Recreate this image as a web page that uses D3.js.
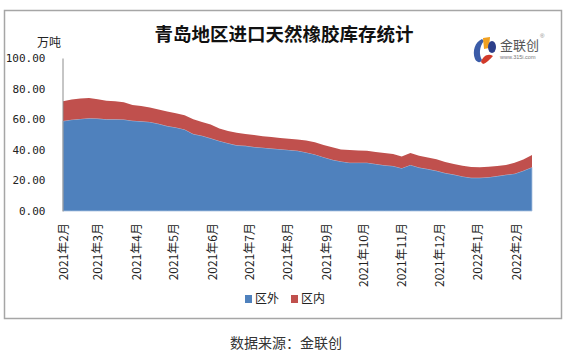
<!DOCTYPE html>
<html lang="zh">
<head>
<meta charset="UTF-8">
<title>青岛地区进口天然橡胶库存统计</title>
<script src="https://d3js.org/d3.v7.min.js"></script>
<style>
  body { margin: 0; background: #fff; }
  svg { display: block; }
  .cjk { font-family: "Noto Sans CJK SC", "Liberation Sans", sans-serif; }
</style>
</head>
<body>
<div id="chart"></div>
<script>
// weekly dates
const dates = [
  "2021-02-01","2021-02-08","2021-02-15","2021-02-22","2021-03-01","2021-03-08","2021-03-15","2021-03-22","2021-03-29",
  "2021-04-05","2021-04-12","2021-04-19","2021-04-26","2021-05-03","2021-05-10","2021-05-17","2021-05-24","2021-05-31",
  "2021-06-07","2021-06-14","2021-06-21","2021-06-28","2021-07-05","2021-07-12","2021-07-19","2021-07-26",
  "2021-08-02","2021-08-09","2021-08-16","2021-08-23","2021-08-30","2021-09-06","2021-09-13","2021-09-20","2021-09-27",
  "2021-10-04","2021-10-11","2021-10-18","2021-10-25","2021-11-01","2021-11-08","2021-11-15","2021-11-22","2021-11-29",
  "2021-12-06","2021-12-13","2021-12-20","2021-12-27","2022-01-03","2022-01-10","2022-01-17","2022-01-24","2022-01-31",
  "2022-02-07","2022-02-14"
];
// 区外 (bonded-zone outside), 万吨
const outside = [
  58.8,59.7,60.2,60.7,60.4,59.9,59.9,59.8,59.0,58.6,58.2,57.0,55.5,54.6,53.3,50.3,49.2,47.5,
  45.8,44.3,42.9,42.6,41.8,41.4,40.8,40.4,39.9,39.4,38.3,37.0,35.2,33.5,32.4,31.6,31.6,
  31.6,30.7,29.9,29.4,28.0,30.1,28.4,27.4,26.3,24.8,23.8,22.6,21.7,21.7,22.1,22.8,23.7,24.4,
  26.3,28.6
];
// 区内
const inside = [
  13.0,13.1,13.3,13.2,12.6,12.2,11.9,11.3,10.3,10.1,9.4,9.3,9.6,9.3,9.3,9.7,8.9,9.0,
  8.2,8.0,8.2,7.8,7.9,7.5,7.5,7.3,7.3,7.3,7.8,7.9,8.0,8.1,7.8,8.2,8.0,
  7.8,7.8,8.0,7.9,7.7,7.8,7.7,7.6,7.5,7.3,7.0,7.0,7.0,6.9,6.8,6.6,6.4,7.2,
  7.3,8.0
];
const tickDates = ["2021-02-01","2021-03-01","2021-04-01","2021-05-01","2021-06-01","2021-07-01","2021-08-01",
  "2021-09-01","2021-10-01","2021-11-01","2021-12-01","2022-01-01","2022-02-01"];
const tickLabels = ["2021年2月","2021年3月","2021年4月","2021年5月","2021年6月","2021年7月","2021年8月",
  "2021年9月","2021年10月","2021年11月","2021年12月","2022年1月","2022年2月"];
const yTicks = [0, 20, 40, 60, 80, 100];
const seriesNames = ["区外", "区内"];
const colors = ["#4F81BD", "#C0504D"];

const W = 573, H = 360;
const parse = d3.utcParse("%Y-%m-%d");

const svg = d3.select("#chart").append("svg")
  .attr("width", W).attr("height", H);

// outer frame
svg.append("rect")
  .attr("x", 4.5).attr("y", 10.5).attr("width", 557).attr("height", 308)
  .attr("fill", "#fff").attr("stroke", "#a6a6a6").attr("stroke-width", 1.5);

const rows = dates.map((d, i) => ({date: parse(d), "区外": outside[i], "区内": inside[i]}));

const x = d3.scaleUtc()
  .domain(d3.extent(rows, d => d.date))
  .range([63, 532]);
const y = d3.scaleLinear().domain([0, 100]).range([211, 58]);

const stacked = d3.stack().keys(seriesNames)(rows);

const area = d3.area()
  .x(d => x(d.data.date))
  .y0(d => y(d[0]))
  .y1(d => y(d[1]));

svg.selectAll(".layer")
  .data(stacked)
  .join("path")
  .attr("class", "layer")
  .attr("d", area)
  .attr("fill", (d, i) => colors[i])
  .attr("stroke", (d, i) => i === 0 ? "#a9c1e0" : "none")
  .attr("stroke-width", 0.8);

// y axis
const yAxis = svg.append("g")
  .attr("transform", "translate(62.5,0)")
  .call(d3.axisLeft(y).tickValues(yTicks).tickSize(0).tickPadding(17)
    .tickFormat(d => d3.format(".2f")(d)));
yAxis.select(".domain").attr("stroke", "#8c8c8c");
yAxis.selectAll("text")
  .attr("font-family", "'DejaVu Sans Mono', monospace")
  .attr("font-size", 11)
  .attr("fill", "#222");

// x axis labels, rotated
const xAxis = svg.append("g")
  .attr("transform", "translate(0,211)")
  .call(d3.axisBottom(x).tickValues(tickDates.map(parse)).tickSize(0)
    .tickFormat((d, i) => tickLabels[i]));
xAxis.select(".domain").remove();
xAxis.selectAll("text")
  .attr("class", "cjk")
  .attr("font-size", 12)
  .attr("fill", "#222")
  .attr("text-anchor", "end")
  .attr("transform", "rotate(-90)")
  .attr("x", -12)
  .attr("y", 0)
  .attr("dy", "0.35em");

// unit label
svg.append("text")
  .attr("class", "cjk")
  .attr("x", 37).attr("y", 47)
  .attr("font-size", 12).attr("fill", "#222")
  .text("万吨");

// title
svg.append("text")
  .attr("class", "cjk")
  .attr("x", 284).attr("y", 41)
  .attr("text-anchor", "middle")
  .attr("font-size", 18.5).attr("font-weight", "bold").attr("fill", "#111")
  .text("青岛地区进口天然橡胶库存统计");

// legend
const legend = svg.append("g").attr("transform", "translate(245,299)");
const legendX = [0, 46];
seriesNames.forEach((name, i) => {
  const g = legend.append("g").attr("transform", `translate(${legendX[i]},0)`);
  g.append("rect").attr("x", 0).attr("y", -4).attr("width", 7).attr("height", 8).attr("fill", colors[i]);
  g.append("text").attr("class", "cjk")
    .attr("x", 10).attr("y", 0).attr("dy", "0.36em")
    .attr("font-size", 12).attr("fill", "#222")
    .text(name);
});

// source note
svg.append("text")
  .attr("class", "cjk")
  .attr("x", 286).attr("y", 343).attr("dy", "0.36em")
  .attr("text-anchor", "middle")
  .attr("font-size", 14).attr("fill", "#333")
  .text("数据来源：金联创");

// logo
const logo = svg.append("g").attr("transform", "translate(473,37)");
logo.append("path")
  .attr("d", "M9,2 C2,5 -1,14 2,22 C4,26 8,26 9,23 C6,18 6,10 11,4 Z")
  .attr("fill", "#3b5ca8");
logo.append("path")
  .attr("d", "M10,1 L17,0 L16,11 L11,12 Z")
  .attr("fill", "#f0a020");
logo.append("path")
  .attr("d", "M8,25 C10,19 15,16 20,19 C17,22 14,26 10,27 Z")
  .attr("fill", "#d23a2a");
logo.append("ellipse")
  .attr("cx", 19).attr("cy", 10).attr("rx", 4).attr("ry", 6)
  .attr("fill", "#2c3f8a");
logo.append("text").attr("class", "cjk")
  .attr("x", 27).attr("y", 13)
  .attr("font-size", 13).attr("fill", "#555")
  .text("金联创");
logo.append("text")
  .attr("x", 27).attr("y", 22)
  .attr("font-family", "'Liberation Sans', sans-serif")
  .attr("font-size", 5.5).attr("fill", "#777")
  .text("www.315i.com");
logo.append("text")
  .attr("x", 67).attr("y", 1)
  .attr("font-family", "'Liberation Sans', sans-serif")
  .attr("font-size", 6).attr("fill", "#888")
  .text("®");
</script>
</body>
</html>
